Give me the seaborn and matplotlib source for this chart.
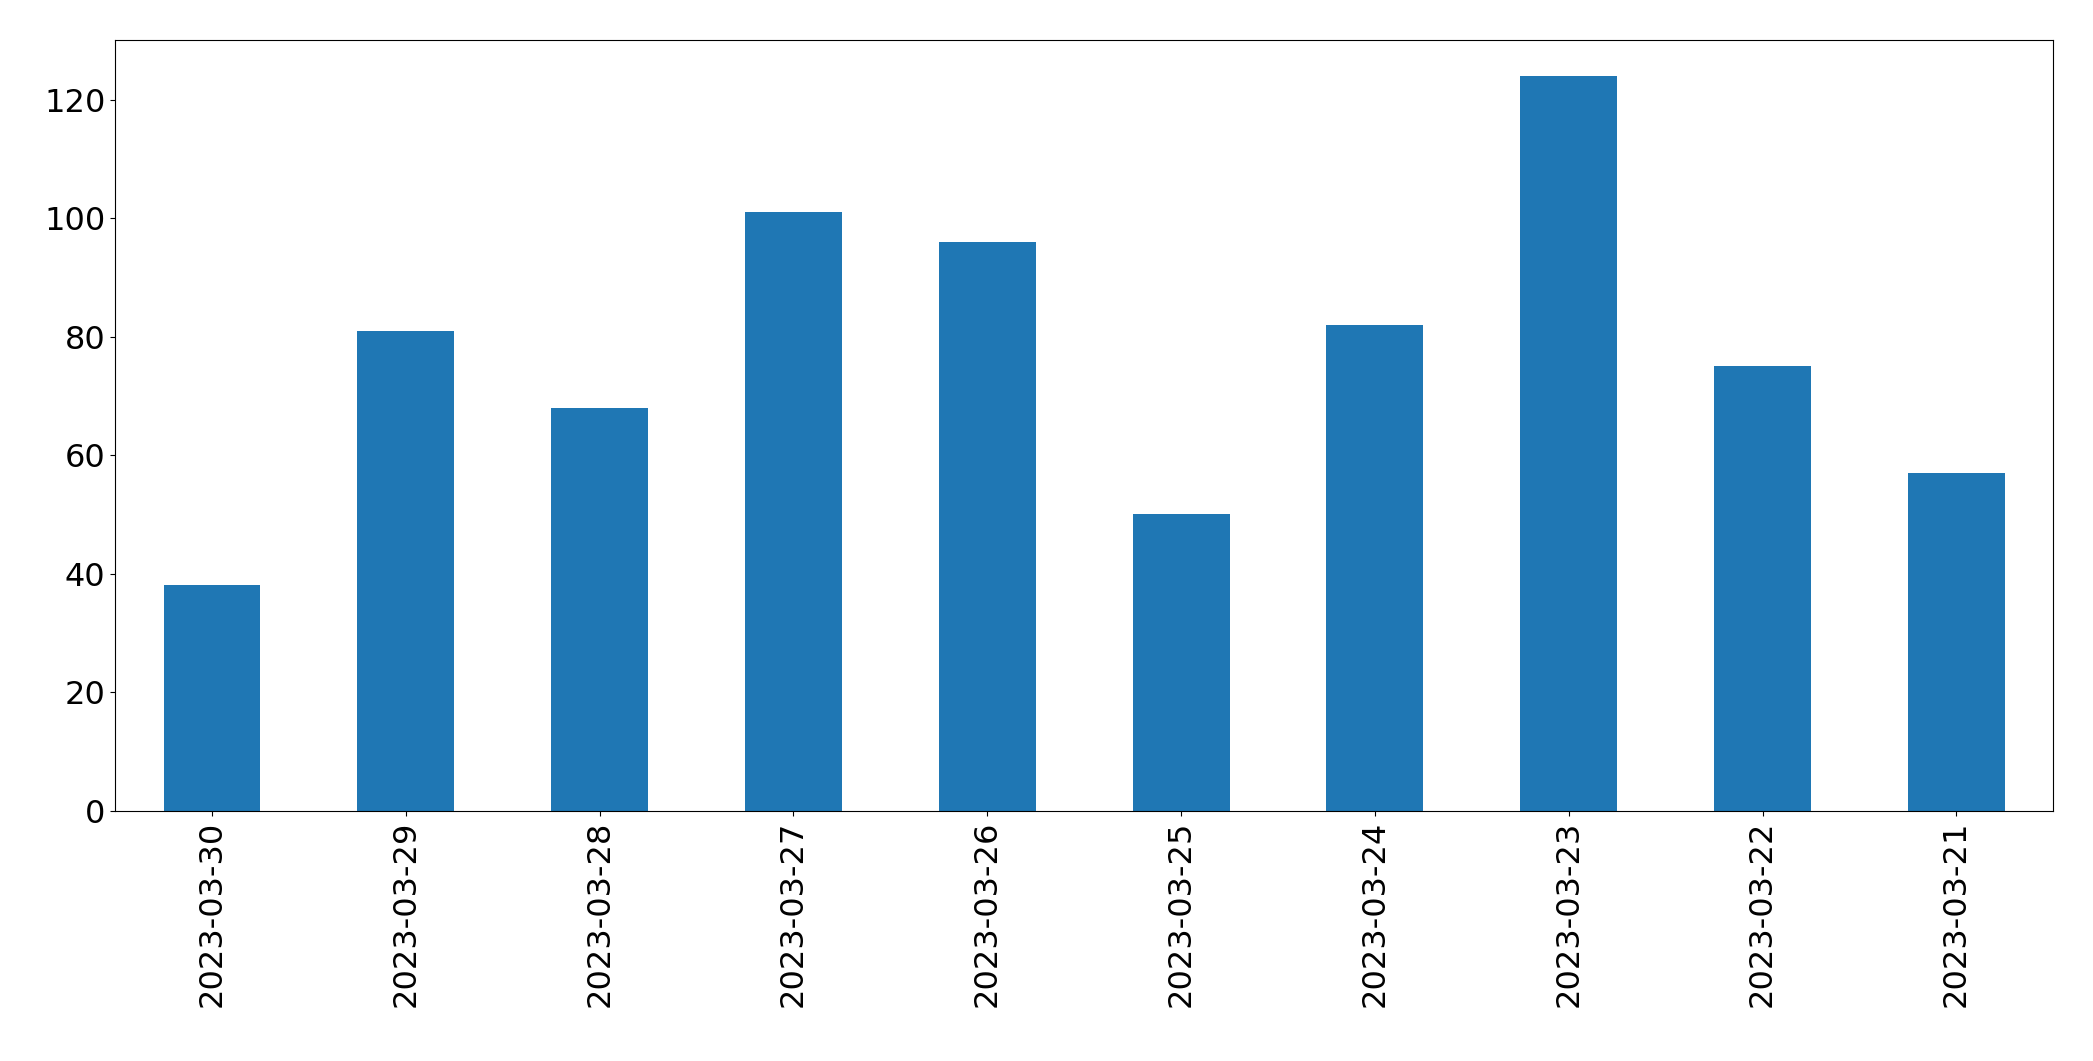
import matplotlib
matplotlib.use("Agg")
import matplotlib.pyplot as plt
import seaborn as sns
import pandas as pd

# data
dates = ["2023-03-30", "2023-03-29", "2023-03-28", "2023-03-27", "2023-03-26",
         "2023-03-25", "2023-03-24", "2023-03-23", "2023-03-22", "2023-03-21"]
counts = [38, 81, 68, 101, 96, 50, 82, 124, 75, 57]

df = pd.DataFrame({"date": dates, "count": counts})

fig = plt.figure(figsize=(20.93, 10.61), dpi=100)
ax = fig.add_axes([0.055, 0.236, 0.926, 0.726])
sns.barplot(x="date", y="count", data=df, color="#1f77b4", saturation=1,
            width=0.5, ax=ax, order=dates)
ax.set_xlabel("")
ax.set_ylabel("")
ax.set_ylim(0, 130)
ax.tick_params(axis="both", labelsize=23)
plt.setp(ax.get_xticklabels(), rotation=90)
fig.savefig("out.png", dpi=100)
